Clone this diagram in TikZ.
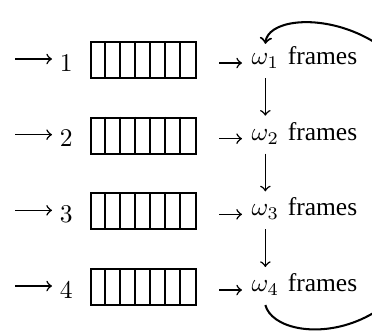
\documentclass[tikz,border=0pt]{standalone}
\usepackage{fontspec}
\setmainfont{Liberation Serif}
\usetikzlibrary{arrows}
\usetikzlibrary{positioning}
\tikzset{queue/.style = {draw, thick, minimum width=41.2pt, minimum height=14.1pt, inner sep=0}}
\tikzset{omega/.style = {anchor=base west, inner sep=3.5pt, text height=5.8pt}}

\begin{document}
\begin{tikzpicture}[x=0.392pt, y=-0.392pt, >=to, semithick]
  \useasboundingbox (0, 0) rectangle (372, 331);
  \foreach \n in {1, 2, 3, 4} {
    \pgfmathsetmacro{\y}{60 + 75.67*(\n - 1)}
    % input and number
    \coordinate (in\n) at (15, \y - 1);
    \node [anchor=base west, inner sep=2.8pt] (num\n) at (52, \y + 11) {$\n$};
    \draw [->] (in\n) -- (in\n -| num\n.west);
    % buffer with seven slots
    \node [queue] (q\n) at (143.5, \y) {};
    \foreach \i in {1, ..., 6}
      \draw [thick] (q\n.north west) ++(15*\i, 0) -- ++(0, 36);
    % output
    \coordinate (out\n) at (219, \y + 3);
    \node [omega] (w\n) at (242, \y + 4.5) {$\omega_\n$};
    \draw [->] (out\n) -- (out\n -| w\n.west);
    \node [anchor=base west, inner sep=0] (f\n) at (287, \y + 4.5) {frames};
  }
  \foreach \n [count=\m from 2] in {1, 2, 3}
    \draw [->] (w\n) -- (w\m);

  \coordinate (turn) at (440, 172);
  \draw [->, thick] (w4.south) .. controls +(12, 45) and +(0, 175) .. (turn)
                        .. controls +(0, -160) and +(4, -42) .. ([yshift=-1.5pt]w1.north);
\end{tikzpicture}
\end{document}
